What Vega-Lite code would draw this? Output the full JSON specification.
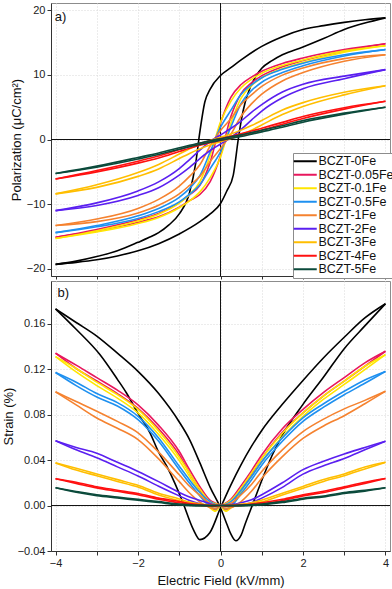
{
"$schema":"https://vega.github.io/schema/vega-lite/v6.json",
"background":"white",
"padding":{"left":1,"top":2,"right":1,"bottom":0},
"spacing":0,
"config":{
 "font":"Liberation Sans",
 "view":{"stroke":"#8c8c8c","strokeWidth":1},
 "axis":{"labelFont":"Liberation Sans","labelFontSize":11,"labelColor":"#222","titleFont":"Liberation Sans","titleFontSize":13,"titleFontWeight":"normal","titleColor":"#111","domainColor":"#333","tickColor":"#333","gridColor":"#d9d9d9","gridDash":[1,2],"gridWidth":1}
},
"datasets":{
"pol":[
{"s":"BCZT-0Fe","b":"D","e":4,"v":18.8},{"s":"BCZT-0Fe","b":"D","e":3.5,"v":18.5},{"s":"BCZT-0Fe","b":"D","e":3,"v":18.1},{"s":"BCZT-0Fe","b":"D","e":2.5,"v":17.6},{"s":"BCZT-0Fe","b":"D","e":2,"v":17.0},{"s":"BCZT-0Fe","b":"D","e":1.5,"v":15.9},{"s":"BCZT-0Fe","b":"D","e":1,"v":14.4},{"s":"BCZT-0Fe","b":"D","e":0.5,"v":12.3},{"s":"BCZT-0Fe","b":"D","e":0.25,"v":11.1},{"s":"BCZT-0Fe","b":"D","e":0,"v":9.9},{"s":"BCZT-0Fe","b":"D","e":-0.25,"v":7.8},{"s":"BCZT-0Fe","b":"D","e":-0.38,"v":5.8},{"s":"BCZT-0Fe","b":"D","e":-0.5,"v":1.2},{"s":"BCZT-0Fe","b":"D","e":-0.6,"v":-3.6},{"s":"BCZT-0Fe","b":"D","e":-0.75,"v":-8.2},{"s":"BCZT-0Fe","b":"D","e":-1,"v":-11.5},{"s":"BCZT-0Fe","b":"D","e":-1.25,"v":-13.2},{"s":"BCZT-0Fe","b":"D","e":-1.5,"v":-14.4},{"s":"BCZT-0Fe","b":"D","e":-1.75,"v":-15.2},{"s":"BCZT-0Fe","b":"D","e":-2,"v":-15.9},{"s":"BCZT-0Fe","b":"D","e":-2.5,"v":-17.2},{"s":"BCZT-0Fe","b":"D","e":-3,"v":-18.1},{"s":"BCZT-0Fe","b":"D","e":-3.5,"v":-18.8},{"s":"BCZT-0Fe","b":"D","e":-4,"v":-19.3},
{"s":"BCZT-0Fe","b":"A","e":-4,"v":-19.3},{"s":"BCZT-0Fe","b":"A","e":-3.5,"v":-19.0},{"s":"BCZT-0Fe","b":"A","e":-3,"v":-18.6},{"s":"BCZT-0Fe","b":"A","e":-2.5,"v":-18.0},{"s":"BCZT-0Fe","b":"A","e":-2,"v":-17.2},{"s":"BCZT-0Fe","b":"A","e":-1.5,"v":-16.1},{"s":"BCZT-0Fe","b":"A","e":-1,"v":-14.6},{"s":"BCZT-0Fe","b":"A","e":-0.5,"v":-12.7},{"s":"BCZT-0Fe","b":"A","e":-0.25,"v":-11.5},{"s":"BCZT-0Fe","b":"A","e":0,"v":-9.9},{"s":"BCZT-0Fe","b":"A","e":0.15,"v":-8.0},{"s":"BCZT-0Fe","b":"A","e":0.31,"v":-5.5},{"s":"BCZT-0Fe","b":"A","e":0.43,"v":0.0},{"s":"BCZT-0Fe","b":"A","e":0.51,"v":3.2},{"s":"BCZT-0Fe","b":"A","e":0.6,"v":5.8},{"s":"BCZT-0Fe","b":"A","e":0.71,"v":7.9},{"s":"BCZT-0Fe","b":"A","e":0.87,"v":9.9},{"s":"BCZT-0Fe","b":"A","e":1,"v":11.0},{"s":"BCZT-0Fe","b":"A","e":1.25,"v":12.2},{"s":"BCZT-0Fe","b":"A","e":1.5,"v":13.1},{"s":"BCZT-0Fe","b":"A","e":2,"v":14.3},{"s":"BCZT-0Fe","b":"A","e":2.5,"v":15.6},{"s":"BCZT-0Fe","b":"A","e":3,"v":17.0},{"s":"BCZT-0Fe","b":"A","e":3.5,"v":18.0},{"s":"BCZT-0Fe","b":"A","e":4,"v":18.8},
{"s":"BCZT-0.05Fe","b":"D","e":-4,"v":-15.1},{"s":"BCZT-0.05Fe","b":"D","e":-3,"v":-13.9},{"s":"BCZT-0.05Fe","b":"D","e":-2,"v":-12.4},{"s":"BCZT-0.05Fe","b":"D","e":-1.5,"v":-11.45},{"s":"BCZT-0.05Fe","b":"D","e":-1,"v":-9.75},{"s":"BCZT-0.05Fe","b":"D","e":-0.75,"v":-8.55},{"s":"BCZT-0.05Fe","b":"D","e":-0.5,"v":-7.1},{"s":"BCZT-0.05Fe","b":"D","e":-0.25,"v":-3.5},{"s":"BCZT-0.05Fe","b":"D","e":0,"v":2.5},{"s":"BCZT-0.05Fe","b":"D","e":0.25,"v":6.5},{"s":"BCZT-0.05Fe","b":"D","e":0.5,"v":8.5},{"s":"BCZT-0.05Fe","b":"D","e":0.75,"v":9.65},{"s":"BCZT-0.05Fe","b":"D","e":1,"v":10.55},{"s":"BCZT-0.05Fe","b":"D","e":1.5,"v":11.75},{"s":"BCZT-0.05Fe","b":"D","e":2,"v":12.6},{"s":"BCZT-0.05Fe","b":"D","e":3,"v":13.9},{"s":"BCZT-0.05Fe","b":"D","e":4,"v":14.8},
{"s":"BCZT-0.05Fe","b":"A","e":-4,"v":-15.1},{"s":"BCZT-0.05Fe","b":"A","e":-3,"v":-14.1},{"s":"BCZT-0.05Fe","b":"A","e":-2,"v":-12.8},{"s":"BCZT-0.05Fe","b":"A","e":-1.5,"v":-11.95},{"s":"BCZT-0.05Fe","b":"A","e":-1,"v":-10.45},{"s":"BCZT-0.05Fe","b":"A","e":-0.75,"v":-9.45},{"s":"BCZT-0.05Fe","b":"A","e":-0.5,"v":-8.5},{"s":"BCZT-0.05Fe","b":"A","e":-0.25,"v":-6.5},{"s":"BCZT-0.05Fe","b":"A","e":0,"v":-2.5},{"s":"BCZT-0.05Fe","b":"A","e":0.25,"v":3.5},{"s":"BCZT-0.05Fe","b":"A","e":0.5,"v":7.1},{"s":"BCZT-0.05Fe","b":"A","e":0.75,"v":8.75},{"s":"BCZT-0.05Fe","b":"A","e":1,"v":9.85},{"s":"BCZT-0.05Fe","b":"A","e":1.5,"v":11.25},{"s":"BCZT-0.05Fe","b":"A","e":2,"v":12.2},{"s":"BCZT-0.05Fe","b":"A","e":3,"v":13.7},{"s":"BCZT-0.05Fe","b":"A","e":4,"v":14.8},
{"s":"BCZT-0.1Fe","b":"D","e":-4,"v":-15.3},{"s":"BCZT-0.1Fe","b":"D","e":-3,"v":-14.1},{"s":"BCZT-0.1Fe","b":"D","e":-2,"v":-12.6},{"s":"BCZT-0.1Fe","b":"D","e":-1.5,"v":-11.55},{"s":"BCZT-0.1Fe","b":"D","e":-1,"v":-9.85},{"s":"BCZT-0.1Fe","b":"D","e":-0.75,"v":-8.5},{"s":"BCZT-0.1Fe","b":"D","e":-0.5,"v":-6.5},{"s":"BCZT-0.1Fe","b":"D","e":-0.25,"v":-2.5},{"s":"BCZT-0.1Fe","b":"D","e":0,"v":2.7},{"s":"BCZT-0.1Fe","b":"D","e":0.25,"v":5.9},{"s":"BCZT-0.1Fe","b":"D","e":0.5,"v":8.0},{"s":"BCZT-0.1Fe","b":"D","e":0.75,"v":9.3},{"s":"BCZT-0.1Fe","b":"D","e":1,"v":10.25},{"s":"BCZT-0.1Fe","b":"D","e":1.5,"v":11.45},{"s":"BCZT-0.1Fe","b":"D","e":2,"v":12.3},{"s":"BCZT-0.1Fe","b":"D","e":3,"v":13.7},{"s":"BCZT-0.1Fe","b":"D","e":4,"v":14.5},
{"s":"BCZT-0.1Fe","b":"A","e":-4,"v":-15.3},{"s":"BCZT-0.1Fe","b":"A","e":-3,"v":-14.3},{"s":"BCZT-0.1Fe","b":"A","e":-2,"v":-13.0},{"s":"BCZT-0.1Fe","b":"A","e":-1.5,"v":-12.05},{"s":"BCZT-0.1Fe","b":"A","e":-1,"v":-10.55},{"s":"BCZT-0.1Fe","b":"A","e":-0.75,"v":-9.5},{"s":"BCZT-0.1Fe","b":"A","e":-0.5,"v":-8.1},{"s":"BCZT-0.1Fe","b":"A","e":-0.25,"v":-5.9},{"s":"BCZT-0.1Fe","b":"A","e":0,"v":-2.7},{"s":"BCZT-0.1Fe","b":"A","e":0.25,"v":2.5},{"s":"BCZT-0.1Fe","b":"A","e":0.5,"v":6.4},{"s":"BCZT-0.1Fe","b":"A","e":0.75,"v":8.3},{"s":"BCZT-0.1Fe","b":"A","e":1,"v":9.55},{"s":"BCZT-0.1Fe","b":"A","e":1.5,"v":10.95},{"s":"BCZT-0.1Fe","b":"A","e":2,"v":11.9},{"s":"BCZT-0.1Fe","b":"A","e":3,"v":13.5},{"s":"BCZT-0.1Fe","b":"A","e":4,"v":14.5},
{"s":"BCZT-0.5Fe","b":"D","e":-4,"v":-14.4},{"s":"BCZT-0.5Fe","b":"D","e":-3,"v":-13.3},{"s":"BCZT-0.5Fe","b":"D","e":-2,"v":-11.8},{"s":"BCZT-0.5Fe","b":"D","e":-1.5,"v":-10.65},{"s":"BCZT-0.5Fe","b":"D","e":-1,"v":-8.95},{"s":"BCZT-0.5Fe","b":"D","e":-0.75,"v":-7.55},{"s":"BCZT-0.5Fe","b":"D","e":-0.5,"v":-5.6},{"s":"BCZT-0.5Fe","b":"D","e":-0.25,"v":-1.9},{"s":"BCZT-0.5Fe","b":"D","e":0,"v":1.9},{"s":"BCZT-0.5Fe","b":"D","e":0.25,"v":4.5},{"s":"BCZT-0.5Fe","b":"D","e":0.5,"v":7.0},{"s":"BCZT-0.5Fe","b":"D","e":0.75,"v":8.45},{"s":"BCZT-0.5Fe","b":"D","e":1,"v":9.55},{"s":"BCZT-0.5Fe","b":"D","e":1.5,"v":10.85},{"s":"BCZT-0.5Fe","b":"D","e":2,"v":11.8},{"s":"BCZT-0.5Fe","b":"D","e":3,"v":13.1},{"s":"BCZT-0.5Fe","b":"D","e":4,"v":13.9},
{"s":"BCZT-0.5Fe","b":"A","e":-4,"v":-14.4},{"s":"BCZT-0.5Fe","b":"A","e":-3,"v":-13.5},{"s":"BCZT-0.5Fe","b":"A","e":-2,"v":-12.2},{"s":"BCZT-0.5Fe","b":"A","e":-1.5,"v":-11.15},{"s":"BCZT-0.5Fe","b":"A","e":-1,"v":-9.65},{"s":"BCZT-0.5Fe","b":"A","e":-0.75,"v":-8.45},{"s":"BCZT-0.5Fe","b":"A","e":-0.5,"v":-7.0},{"s":"BCZT-0.5Fe","b":"A","e":-0.25,"v":-4.5},{"s":"BCZT-0.5Fe","b":"A","e":0,"v":-1.9},{"s":"BCZT-0.5Fe","b":"A","e":0.25,"v":1.9},{"s":"BCZT-0.5Fe","b":"A","e":0.5,"v":5.6},{"s":"BCZT-0.5Fe","b":"A","e":0.75,"v":7.55},{"s":"BCZT-0.5Fe","b":"A","e":1,"v":8.85},{"s":"BCZT-0.5Fe","b":"A","e":1.5,"v":10.35},{"s":"BCZT-0.5Fe","b":"A","e":2,"v":11.4},{"s":"BCZT-0.5Fe","b":"A","e":3,"v":12.9},{"s":"BCZT-0.5Fe","b":"A","e":4,"v":13.9},
{"s":"BCZT-1Fe","b":"D","e":-4,"v":-13.3},{"s":"BCZT-1Fe","b":"D","e":-3,"v":-12.3},{"s":"BCZT-1Fe","b":"D","e":-2,"v":-10.65},{"s":"BCZT-1Fe","b":"D","e":-1.5,"v":-9.25},{"s":"BCZT-1Fe","b":"D","e":-1,"v":-7.2},{"s":"BCZT-1Fe","b":"D","e":-0.75,"v":-5.7},{"s":"BCZT-1Fe","b":"D","e":-0.5,"v":-3.9},{"s":"BCZT-1Fe","b":"D","e":-0.25,"v":-1.0},{"s":"BCZT-1Fe","b":"D","e":0,"v":1.4},{"s":"BCZT-1Fe","b":"D","e":0.25,"v":3.2},{"s":"BCZT-1Fe","b":"D","e":0.5,"v":5.4},{"s":"BCZT-1Fe","b":"D","e":0.75,"v":6.9},{"s":"BCZT-1Fe","b":"D","e":1,"v":8.2},{"s":"BCZT-1Fe","b":"D","e":1.5,"v":9.95},{"s":"BCZT-1Fe","b":"D","e":2,"v":11.05},{"s":"BCZT-1Fe","b":"D","e":3,"v":12.5},{"s":"BCZT-1Fe","b":"D","e":4,"v":13.1},
{"s":"BCZT-1Fe","b":"A","e":-4,"v":-13.3},{"s":"BCZT-1Fe","b":"A","e":-3,"v":-12.7},{"s":"BCZT-1Fe","b":"A","e":-2,"v":-11.35},{"s":"BCZT-1Fe","b":"A","e":-1.5,"v":-10.15},{"s":"BCZT-1Fe","b":"A","e":-1,"v":-8.4},{"s":"BCZT-1Fe","b":"A","e":-0.75,"v":-7.1},{"s":"BCZT-1Fe","b":"A","e":-0.5,"v":-5.7},{"s":"BCZT-1Fe","b":"A","e":-0.25,"v":-3.4},{"s":"BCZT-1Fe","b":"A","e":0,"v":-1.4},{"s":"BCZT-1Fe","b":"A","e":0.25,"v":0.8},{"s":"BCZT-1Fe","b":"A","e":0.5,"v":3.6},{"s":"BCZT-1Fe","b":"A","e":0.75,"v":5.5},{"s":"BCZT-1Fe","b":"A","e":1,"v":7.0},{"s":"BCZT-1Fe","b":"A","e":1.5,"v":9.05},{"s":"BCZT-1Fe","b":"A","e":2,"v":10.35},{"s":"BCZT-1Fe","b":"A","e":3,"v":12.1},{"s":"BCZT-1Fe","b":"A","e":4,"v":13.1},
{"s":"BCZT-2Fe","b":"D","e":-4,"v":-11.0},{"s":"BCZT-2Fe","b":"D","e":-3,"v":-9.8},{"s":"BCZT-2Fe","b":"D","e":-2,"v":-7.95},{"s":"BCZT-2Fe","b":"D","e":-1.5,"v":-6.55},{"s":"BCZT-2Fe","b":"D","e":-1,"v":-4.5},{"s":"BCZT-2Fe","b":"D","e":-0.75,"v":-3.1},{"s":"BCZT-2Fe","b":"D","e":-0.5,"v":-1.65},{"s":"BCZT-2Fe","b":"D","e":-0.25,"v":-0.3},{"s":"BCZT-2Fe","b":"D","e":0,"v":0.7},{"s":"BCZT-2Fe","b":"D","e":0.25,"v":1.7},{"s":"BCZT-2Fe","b":"D","e":0.5,"v":2.85},{"s":"BCZT-2Fe","b":"D","e":0.75,"v":4.2},{"s":"BCZT-2Fe","b":"D","e":1,"v":5.4},{"s":"BCZT-2Fe","b":"D","e":1.5,"v":7.35},{"s":"BCZT-2Fe","b":"D","e":2,"v":8.55},{"s":"BCZT-2Fe","b":"D","e":3,"v":9.8},{"s":"BCZT-2Fe","b":"D","e":4,"v":10.8},
{"s":"BCZT-2Fe","b":"A","e":-4,"v":-11.0},{"s":"BCZT-2Fe","b":"A","e":-3,"v":-10.2},{"s":"BCZT-2Fe","b":"A","e":-2,"v":-8.65},{"s":"BCZT-2Fe","b":"A","e":-1.5,"v":-7.45},{"s":"BCZT-2Fe","b":"A","e":-1,"v":-5.5},{"s":"BCZT-2Fe","b":"A","e":-0.75,"v":-4.3},{"s":"BCZT-2Fe","b":"A","e":-0.5,"v":-2.95},{"s":"BCZT-2Fe","b":"A","e":-0.25,"v":-1.7},{"s":"BCZT-2Fe","b":"A","e":0,"v":-0.7},{"s":"BCZT-2Fe","b":"A","e":0.25,"v":0.3},{"s":"BCZT-2Fe","b":"A","e":0.5,"v":1.55},{"s":"BCZT-2Fe","b":"A","e":0.75,"v":3.0},{"s":"BCZT-2Fe","b":"A","e":1,"v":4.4},{"s":"BCZT-2Fe","b":"A","e":1.5,"v":6.45},{"s":"BCZT-2Fe","b":"A","e":2,"v":7.85},{"s":"BCZT-2Fe","b":"A","e":3,"v":9.4},{"s":"BCZT-2Fe","b":"A","e":4,"v":10.8},
{"s":"BCZT-3Fe","b":"D","e":-4,"v":-8.4},{"s":"BCZT-3Fe","b":"D","e":-3,"v":-7.0},{"s":"BCZT-3Fe","b":"D","e":-2,"v":-5.1},{"s":"BCZT-3Fe","b":"D","e":-1.5,"v":-3.85},{"s":"BCZT-3Fe","b":"D","e":-1,"v":-2.25},{"s":"BCZT-3Fe","b":"D","e":-0.75,"v":-1.45},{"s":"BCZT-3Fe","b":"D","e":-0.5,"v":-0.75},{"s":"BCZT-3Fe","b":"D","e":-0.25,"v":-0.15},{"s":"BCZT-3Fe","b":"D","e":0,"v":0.35},{"s":"BCZT-3Fe","b":"D","e":0.25,"v":0.85},{"s":"BCZT-3Fe","b":"D","e":0.5,"v":1.45},{"s":"BCZT-3Fe","b":"D","e":0.75,"v":2.15},{"s":"BCZT-3Fe","b":"D","e":1,"v":2.95},{"s":"BCZT-3Fe","b":"D","e":1.5,"v":4.55},{"s":"BCZT-3Fe","b":"D","e":2,"v":5.7},{"s":"BCZT-3Fe","b":"D","e":3,"v":7.3},{"s":"BCZT-3Fe","b":"D","e":4,"v":8.3},
{"s":"BCZT-3Fe","b":"A","e":-4,"v":-8.4},{"s":"BCZT-3Fe","b":"A","e":-3,"v":-7.4},{"s":"BCZT-3Fe","b":"A","e":-2,"v":-5.7},{"s":"BCZT-3Fe","b":"A","e":-1.5,"v":-4.55},{"s":"BCZT-3Fe","b":"A","e":-1,"v":-2.95},{"s":"BCZT-3Fe","b":"A","e":-0.75,"v":-2.15},{"s":"BCZT-3Fe","b":"A","e":-0.5,"v":-1.45},{"s":"BCZT-3Fe","b":"A","e":-0.25,"v":-0.85},{"s":"BCZT-3Fe","b":"A","e":0,"v":-0.35},{"s":"BCZT-3Fe","b":"A","e":0.25,"v":0.15},{"s":"BCZT-3Fe","b":"A","e":0.5,"v":0.75},{"s":"BCZT-3Fe","b":"A","e":0.75,"v":1.45},{"s":"BCZT-3Fe","b":"A","e":1,"v":2.25},{"s":"BCZT-3Fe","b":"A","e":1.5,"v":3.85},{"s":"BCZT-3Fe","b":"A","e":2,"v":5.1},{"s":"BCZT-3Fe","b":"A","e":3,"v":6.9},{"s":"BCZT-3Fe","b":"A","e":4,"v":8.3},
{"s":"BCZT-4Fe","b":"D","e":-4,"v":-6.1},{"s":"BCZT-4Fe","b":"D","e":-3,"v":-4.8},{"s":"BCZT-4Fe","b":"D","e":-2,"v":-3.35},{"s":"BCZT-4Fe","b":"D","e":-1.5,"v":-2.55},{"s":"BCZT-4Fe","b":"D","e":-1,"v":-1.55},{"s":"BCZT-4Fe","b":"D","e":-0.75,"v":-1.05},{"s":"BCZT-4Fe","b":"D","e":-0.5,"v":-0.6},{"s":"BCZT-4Fe","b":"D","e":-0.25,"v":-0.2},{"s":"BCZT-4Fe","b":"D","e":0,"v":0.15},{"s":"BCZT-4Fe","b":"D","e":0.25,"v":0.5},{"s":"BCZT-4Fe","b":"D","e":0.5,"v":0.9},{"s":"BCZT-4Fe","b":"D","e":0.75,"v":1.3},{"s":"BCZT-4Fe","b":"D","e":1,"v":1.75},{"s":"BCZT-4Fe","b":"D","e":1.5,"v":2.65},{"s":"BCZT-4Fe","b":"D","e":2,"v":3.55},{"s":"BCZT-4Fe","b":"D","e":3,"v":4.9},{"s":"BCZT-4Fe","b":"D","e":4,"v":5.9},
{"s":"BCZT-4Fe","b":"A","e":-4,"v":-6.1},{"s":"BCZT-4Fe","b":"A","e":-3,"v":-5.0},{"s":"BCZT-4Fe","b":"A","e":-2,"v":-3.65},{"s":"BCZT-4Fe","b":"A","e":-1.5,"v":-2.85},{"s":"BCZT-4Fe","b":"A","e":-1,"v":-1.85},{"s":"BCZT-4Fe","b":"A","e":-0.75,"v":-1.35},{"s":"BCZT-4Fe","b":"A","e":-0.5,"v":-0.9},{"s":"BCZT-4Fe","b":"A","e":-0.25,"v":-0.5},{"s":"BCZT-4Fe","b":"A","e":0,"v":-0.15},{"s":"BCZT-4Fe","b":"A","e":0.25,"v":0.2},{"s":"BCZT-4Fe","b":"A","e":0.5,"v":0.6},{"s":"BCZT-4Fe","b":"A","e":0.75,"v":1.0},{"s":"BCZT-4Fe","b":"A","e":1,"v":1.45},{"s":"BCZT-4Fe","b":"A","e":1.5,"v":2.35},{"s":"BCZT-4Fe","b":"A","e":2,"v":3.25},{"s":"BCZT-4Fe","b":"A","e":3,"v":4.7},{"s":"BCZT-4Fe","b":"A","e":4,"v":5.9},
{"s":"BCZT-5Fe","b":"D","e":-4,"v":-5.25},{"s":"BCZT-5Fe","b":"D","e":-3,"v":-4.12},{"s":"BCZT-5Fe","b":"D","e":-2,"v":-2.78},{"s":"BCZT-5Fe","b":"D","e":-1.5,"v":-2.08},{"s":"BCZT-5Fe","b":"D","e":-1,"v":-1.28},{"s":"BCZT-5Fe","b":"D","e":-0.75,"v":-0.88},{"s":"BCZT-5Fe","b":"D","e":-0.5,"v":-0.53},{"s":"BCZT-5Fe","b":"D","e":-0.25,"v":-0.18},{"s":"BCZT-5Fe","b":"D","e":0,"v":0.12},{"s":"BCZT-5Fe","b":"D","e":0.25,"v":0.42},{"s":"BCZT-5Fe","b":"D","e":0.5,"v":0.72},{"s":"BCZT-5Fe","b":"D","e":0.75,"v":1.07},{"s":"BCZT-5Fe","b":"D","e":1,"v":1.42},{"s":"BCZT-5Fe","b":"D","e":1.5,"v":2.12},{"s":"BCZT-5Fe","b":"D","e":2,"v":2.92},{"s":"BCZT-5Fe","b":"D","e":3,"v":4.08},{"s":"BCZT-5Fe","b":"D","e":4,"v":5.0},
{"s":"BCZT-5Fe","b":"A","e":-4,"v":-5.25},{"s":"BCZT-5Fe","b":"A","e":-3,"v":-4.28},{"s":"BCZT-5Fe","b":"A","e":-2,"v":-3.02},{"s":"BCZT-5Fe","b":"A","e":-1.5,"v":-2.32},{"s":"BCZT-5Fe","b":"A","e":-1,"v":-1.52},{"s":"BCZT-5Fe","b":"A","e":-0.75,"v":-1.12},{"s":"BCZT-5Fe","b":"A","e":-0.5,"v":-0.77},{"s":"BCZT-5Fe","b":"A","e":-0.25,"v":-0.42},{"s":"BCZT-5Fe","b":"A","e":0,"v":-0.12},{"s":"BCZT-5Fe","b":"A","e":0.25,"v":0.18},{"s":"BCZT-5Fe","b":"A","e":0.5,"v":0.48},{"s":"BCZT-5Fe","b":"A","e":0.75,"v":0.83},{"s":"BCZT-5Fe","b":"A","e":1,"v":1.18},{"s":"BCZT-5Fe","b":"A","e":1.5,"v":1.88},{"s":"BCZT-5Fe","b":"A","e":2,"v":2.68},{"s":"BCZT-5Fe","b":"A","e":3,"v":3.92},{"s":"BCZT-5Fe","b":"A","e":4,"v":5.0}
],
"str":[
{"s":"BCZT-0Fe","b":"A","e":-4,"v":0.173},{"s":"BCZT-0Fe","b":"A","e":-3.5,"v":0.161},{"s":"BCZT-0Fe","b":"A","e":-3,"v":0.149},{"s":"BCZT-0Fe","b":"A","e":-2.5,"v":0.134},{"s":"BCZT-0Fe","b":"A","e":-2,"v":0.118},{"s":"BCZT-0Fe","b":"A","e":-1.5,"v":0.0985},{"s":"BCZT-0Fe","b":"A","e":-1,"v":0.0735},{"s":"BCZT-0Fe","b":"A","e":-0.75,"v":0.058},{"s":"BCZT-0Fe","b":"A","e":-0.5,"v":0.0375},{"s":"BCZT-0Fe","b":"A","e":-0.25,"v":0.016},{"s":"BCZT-0Fe","b":"A","e":0,"v":-0.002},{"s":"BCZT-0Fe","b":"A","e":0.15,"v":-0.016},{"s":"BCZT-0Fe","b":"A","e":0.25,"v":-0.025},{"s":"BCZT-0Fe","b":"A","e":0.37,"v":-0.031},{"s":"BCZT-0Fe","b":"A","e":0.5,"v":-0.026},{"s":"BCZT-0Fe","b":"A","e":0.6,"v":-0.016},{"s":"BCZT-0Fe","b":"A","e":0.78,"v":0.001},{"s":"BCZT-0Fe","b":"A","e":1,"v":0.022},{"s":"BCZT-0Fe","b":"A","e":1.25,"v":0.044},{"s":"BCZT-0Fe","b":"A","e":1.5,"v":0.062},{"s":"BCZT-0Fe","b":"A","e":2,"v":0.089},{"s":"BCZT-0Fe","b":"A","e":2.5,"v":0.113},{"s":"BCZT-0Fe","b":"A","e":3,"v":0.138},{"s":"BCZT-0Fe","b":"A","e":3.5,"v":0.158},{"s":"BCZT-0Fe","b":"A","e":4,"v":0.1775},
{"s":"BCZT-0Fe","b":"D","e":-4,"v":0.173},{"s":"BCZT-0Fe","b":"D","e":-3.5,"v":0.155},{"s":"BCZT-0Fe","b":"D","e":-2.93,"v":0.133},{"s":"BCZT-0Fe","b":"D","e":-2.5,"v":0.111},{"s":"BCZT-0Fe","b":"D","e":-2.28,"v":0.099},{"s":"BCZT-0Fe","b":"D","e":-2,"v":0.081},{"s":"BCZT-0Fe","b":"D","e":-1.71,"v":0.064},{"s":"BCZT-0Fe","b":"D","e":-1.5,"v":0.047},{"s":"BCZT-0Fe","b":"D","e":-1.31,"v":0.035},{"s":"BCZT-0Fe","b":"D","e":-1.1,"v":0.019},{"s":"BCZT-0Fe","b":"D","e":-0.91,"v":0.0024},{"s":"BCZT-0Fe","b":"D","e":-0.66,"v":-0.021},{"s":"BCZT-0Fe","b":"D","e":-0.5,"v":-0.030},{"s":"BCZT-0Fe","b":"D","e":-0.26,"v":-0.024},{"s":"BCZT-0Fe","b":"D","e":0,"v":-0.002},{"s":"BCZT-0Fe","b":"D","e":0.25,"v":0.018},{"s":"BCZT-0Fe","b":"D","e":0.5,"v":0.036},{"s":"BCZT-0Fe","b":"D","e":0.75,"v":0.052},{"s":"BCZT-0Fe","b":"D","e":1,"v":0.066},{"s":"BCZT-0Fe","b":"D","e":1.5,"v":0.089},{"s":"BCZT-0Fe","b":"D","e":2,"v":0.110},{"s":"BCZT-0Fe","b":"D","e":2.5,"v":0.130},{"s":"BCZT-0Fe","b":"D","e":3,"v":0.148},{"s":"BCZT-0Fe","b":"D","e":3.5,"v":0.165},{"s":"BCZT-0Fe","b":"D","e":4,"v":0.1775},
{"s":"BCZT-0.05Fe","b":"D","e":-4,"v":0.134},{"s":"BCZT-0.05Fe","b":"D","e":-3.5,"v":0.1205},{"s":"BCZT-0.05Fe","b":"D","e":-3,"v":0.1095},{"s":"BCZT-0.05Fe","b":"D","e":-2.5,"v":0.0985},{"s":"BCZT-0.05Fe","b":"D","e":-2,"v":0.0855},{"s":"BCZT-0.05Fe","b":"D","e":-1.5,"v":0.0675},{"s":"BCZT-0.05Fe","b":"D","e":-1,"v":0.0445},{"s":"BCZT-0.05Fe","b":"D","e":-0.75,"v":0.0285},{"s":"BCZT-0.05Fe","b":"D","e":-0.5,"v":0.0135},{"s":"BCZT-0.05Fe","b":"D","e":-0.25,"v":-0.001},{"s":"BCZT-0.05Fe","b":"D","e":-0.12,"v":-0.004},{"s":"BCZT-0.05Fe","b":"D","e":0,"v":0.0},{"s":"BCZT-0.05Fe","b":"D","e":0.12,"v":0.002},{"s":"BCZT-0.05Fe","b":"D","e":0.25,"v":0.0055},{"s":"BCZT-0.05Fe","b":"D","e":0.5,"v":0.0175},{"s":"BCZT-0.05Fe","b":"D","e":0.75,"v":0.0305},{"s":"BCZT-0.05Fe","b":"D","e":1,"v":0.0445},{"s":"BCZT-0.05Fe","b":"D","e":1.5,"v":0.0675},{"s":"BCZT-0.05Fe","b":"D","e":2,"v":0.0845},{"s":"BCZT-0.05Fe","b":"D","e":2.5,"v":0.0995},{"s":"BCZT-0.05Fe","b":"D","e":3,"v":0.1125},{"s":"BCZT-0.05Fe","b":"D","e":3.5,"v":0.1255},{"s":"BCZT-0.05Fe","b":"D","e":4,"v":0.1357},
{"s":"BCZT-0.05Fe","b":"A","e":-4,"v":0.134},{"s":"BCZT-0.05Fe","b":"A","e":-3.5,"v":0.1235},{"s":"BCZT-0.05Fe","b":"A","e":-3,"v":0.1125},{"s":"BCZT-0.05Fe","b":"A","e":-2.5,"v":0.1015},{"s":"BCZT-0.05Fe","b":"A","e":-2,"v":0.0885},{"s":"BCZT-0.05Fe","b":"A","e":-1.5,"v":0.0705},{"s":"BCZT-0.05Fe","b":"A","e":-1,"v":0.0475},{"s":"BCZT-0.05Fe","b":"A","e":-0.75,"v":0.0315},{"s":"BCZT-0.05Fe","b":"A","e":-0.5,"v":0.0165},{"s":"BCZT-0.05Fe","b":"A","e":-0.25,"v":0.0045},{"s":"BCZT-0.05Fe","b":"A","e":-0.12,"v":0.002},{"s":"BCZT-0.05Fe","b":"A","e":0,"v":0.0},{"s":"BCZT-0.05Fe","b":"A","e":0.12,"v":-0.004},{"s":"BCZT-0.05Fe","b":"A","e":0.25,"v":-0.001},{"s":"BCZT-0.05Fe","b":"A","e":0.5,"v":0.0145},{"s":"BCZT-0.05Fe","b":"A","e":0.75,"v":0.0275},{"s":"BCZT-0.05Fe","b":"A","e":1,"v":0.0415},{"s":"BCZT-0.05Fe","b":"A","e":1.5,"v":0.0645},{"s":"BCZT-0.05Fe","b":"A","e":2,"v":0.0815},{"s":"BCZT-0.05Fe","b":"A","e":2.5,"v":0.0965},{"s":"BCZT-0.05Fe","b":"A","e":3,"v":0.1095},{"s":"BCZT-0.05Fe","b":"A","e":3.5,"v":0.1225},{"s":"BCZT-0.05Fe","b":"A","e":4,"v":0.1357},
{"s":"BCZT-0.1Fe","b":"D","e":-4,"v":0.131},{"s":"BCZT-0.1Fe","b":"D","e":-3.5,"v":0.1175},{"s":"BCZT-0.1Fe","b":"D","e":-3,"v":0.1055},{"s":"BCZT-0.1Fe","b":"D","e":-2.5,"v":0.0945},{"s":"BCZT-0.1Fe","b":"D","e":-2,"v":0.0815},{"s":"BCZT-0.1Fe","b":"D","e":-1.5,"v":0.0625},{"s":"BCZT-0.1Fe","b":"D","e":-1,"v":0.0395},{"s":"BCZT-0.1Fe","b":"D","e":-0.75,"v":0.0255},{"s":"BCZT-0.1Fe","b":"D","e":-0.5,"v":0.0115},{"s":"BCZT-0.1Fe","b":"D","e":-0.25,"v":-0.002},{"s":"BCZT-0.1Fe","b":"D","e":-0.12,"v":-0.005},{"s":"BCZT-0.1Fe","b":"D","e":0,"v":0.0},{"s":"BCZT-0.1Fe","b":"D","e":0.12,"v":0.0015},{"s":"BCZT-0.1Fe","b":"D","e":0.25,"v":0.0045},{"s":"BCZT-0.1Fe","b":"D","e":0.5,"v":0.0155},{"s":"BCZT-0.1Fe","b":"D","e":0.75,"v":0.0285},{"s":"BCZT-0.1Fe","b":"D","e":1,"v":0.0415},{"s":"BCZT-0.1Fe","b":"D","e":1.5,"v":0.0635},{"s":"BCZT-0.1Fe","b":"D","e":2,"v":0.0815},{"s":"BCZT-0.1Fe","b":"D","e":2.5,"v":0.0965},{"s":"BCZT-0.1Fe","b":"D","e":3,"v":0.1095},{"s":"BCZT-0.1Fe","b":"D","e":3.5,"v":0.1225},{"s":"BCZT-0.1Fe","b":"D","e":4,"v":0.1327},
{"s":"BCZT-0.1Fe","b":"A","e":-4,"v":0.131},{"s":"BCZT-0.1Fe","b":"A","e":-3.5,"v":0.1205},{"s":"BCZT-0.1Fe","b":"A","e":-3,"v":0.1085},{"s":"BCZT-0.1Fe","b":"A","e":-2.5,"v":0.0975},{"s":"BCZT-0.1Fe","b":"A","e":-2,"v":0.0845},{"s":"BCZT-0.1Fe","b":"A","e":-1.5,"v":0.0655},{"s":"BCZT-0.1Fe","b":"A","e":-1,"v":0.0425},{"s":"BCZT-0.1Fe","b":"A","e":-0.75,"v":0.0285},{"s":"BCZT-0.1Fe","b":"A","e":-0.5,"v":0.0145},{"s":"BCZT-0.1Fe","b":"A","e":-0.25,"v":0.0035},{"s":"BCZT-0.1Fe","b":"A","e":-0.12,"v":0.0015},{"s":"BCZT-0.1Fe","b":"A","e":0,"v":0.0},{"s":"BCZT-0.1Fe","b":"A","e":0.12,"v":-0.005},{"s":"BCZT-0.1Fe","b":"A","e":0.25,"v":-0.002},{"s":"BCZT-0.1Fe","b":"A","e":0.5,"v":0.0125},{"s":"BCZT-0.1Fe","b":"A","e":0.75,"v":0.0255},{"s":"BCZT-0.1Fe","b":"A","e":1,"v":0.0385},{"s":"BCZT-0.1Fe","b":"A","e":1.5,"v":0.0605},{"s":"BCZT-0.1Fe","b":"A","e":2,"v":0.0785},{"s":"BCZT-0.1Fe","b":"A","e":2.5,"v":0.0935},{"s":"BCZT-0.1Fe","b":"A","e":3,"v":0.1065},{"s":"BCZT-0.1Fe","b":"A","e":3.5,"v":0.1195},{"s":"BCZT-0.1Fe","b":"A","e":4,"v":0.1327},
{"s":"BCZT-0.5Fe","b":"D","e":-4,"v":0.117},{"s":"BCZT-0.5Fe","b":"D","e":-3.5,"v":0.1055},{"s":"BCZT-0.5Fe","b":"D","e":-3,"v":0.0955},{"s":"BCZT-0.5Fe","b":"D","e":-2.5,"v":0.0875},{"s":"BCZT-0.5Fe","b":"D","e":-2,"v":0.0755},{"s":"BCZT-0.5Fe","b":"D","e":-1.5,"v":0.0565},{"s":"BCZT-0.5Fe","b":"D","e":-1,"v":0.0315},{"s":"BCZT-0.5Fe","b":"D","e":-0.75,"v":0.0195},{"s":"BCZT-0.5Fe","b":"D","e":-0.5,"v":0.0085},{"s":"BCZT-0.5Fe","b":"D","e":-0.25,"v":-0.001},{"s":"BCZT-0.5Fe","b":"D","e":-0.12,"v":-0.003},{"s":"BCZT-0.5Fe","b":"D","e":0,"v":0.0},{"s":"BCZT-0.5Fe","b":"D","e":0.12,"v":0.001},{"s":"BCZT-0.5Fe","b":"D","e":0.25,"v":0.0035},{"s":"BCZT-0.5Fe","b":"D","e":0.5,"v":0.0135},{"s":"BCZT-0.5Fe","b":"D","e":0.75,"v":0.0255},{"s":"BCZT-0.5Fe","b":"D","e":1,"v":0.0385},{"s":"BCZT-0.5Fe","b":"D","e":1.5,"v":0.0595},{"s":"BCZT-0.5Fe","b":"D","e":2,"v":0.0771},{"s":"BCZT-0.5Fe","b":"D","e":2.5,"v":0.0895},{"s":"BCZT-0.5Fe","b":"D","e":3,"v":0.1005},{"s":"BCZT-0.5Fe","b":"D","e":3.5,"v":0.1105},{"s":"BCZT-0.5Fe","b":"D","e":4,"v":0.118},
{"s":"BCZT-0.5Fe","b":"A","e":-4,"v":0.117},{"s":"BCZT-0.5Fe","b":"A","e":-3.5,"v":0.1085},{"s":"BCZT-0.5Fe","b":"A","e":-3,"v":0.0985},{"s":"BCZT-0.5Fe","b":"A","e":-2.5,"v":0.0905},{"s":"BCZT-0.5Fe","b":"A","e":-2,"v":0.0785},{"s":"BCZT-0.5Fe","b":"A","e":-1.5,"v":0.0595},{"s":"BCZT-0.5Fe","b":"A","e":-1,"v":0.0345},{"s":"BCZT-0.5Fe","b":"A","e":-0.75,"v":0.0225},{"s":"BCZT-0.5Fe","b":"A","e":-0.5,"v":0.0115},{"s":"BCZT-0.5Fe","b":"A","e":-0.25,"v":0.0035},{"s":"BCZT-0.5Fe","b":"A","e":-0.12,"v":0.001},{"s":"BCZT-0.5Fe","b":"A","e":0,"v":0.0},{"s":"BCZT-0.5Fe","b":"A","e":0.12,"v":-0.003},{"s":"BCZT-0.5Fe","b":"A","e":0.25,"v":-0.001},{"s":"BCZT-0.5Fe","b":"A","e":0.5,"v":0.0105},{"s":"BCZT-0.5Fe","b":"A","e":0.75,"v":0.0225},{"s":"BCZT-0.5Fe","b":"A","e":1,"v":0.0355},{"s":"BCZT-0.5Fe","b":"A","e":1.5,"v":0.0565},{"s":"BCZT-0.5Fe","b":"A","e":2,"v":0.0741},{"s":"BCZT-0.5Fe","b":"A","e":2.5,"v":0.0865},{"s":"BCZT-0.5Fe","b":"A","e":3,"v":0.0975},{"s":"BCZT-0.5Fe","b":"A","e":3.5,"v":0.1075},{"s":"BCZT-0.5Fe","b":"A","e":4,"v":0.118},
{"s":"BCZT-1Fe","b":"D","e":-4,"v":0.100},{"s":"BCZT-1Fe","b":"D","e":-3.5,"v":0.0885},{"s":"BCZT-1Fe","b":"D","e":-3,"v":0.077},{"s":"BCZT-1Fe","b":"D","e":-2.5,"v":0.068},{"s":"BCZT-1Fe","b":"D","e":-2,"v":0.058},{"s":"BCZT-1Fe","b":"D","e":-1.5,"v":0.041},{"s":"BCZT-1Fe","b":"D","e":-1,"v":0.021},{"s":"BCZT-1Fe","b":"D","e":-0.75,"v":0.011},{"s":"BCZT-1Fe","b":"D","e":-0.5,"v":0.003},{"s":"BCZT-1Fe","b":"D","e":-0.25,"v":-0.002},{"s":"BCZT-1Fe","b":"D","e":-0.12,"v":-0.003},{"s":"BCZT-1Fe","b":"D","e":0,"v":0.0},{"s":"BCZT-1Fe","b":"D","e":0.12,"v":0.0005},{"s":"BCZT-1Fe","b":"D","e":0.25,"v":0.002},{"s":"BCZT-1Fe","b":"D","e":0.5,"v":0.0095},{"s":"BCZT-1Fe","b":"D","e":0.75,"v":0.0185},{"s":"BCZT-1Fe","b":"D","e":1,"v":0.030},{"s":"BCZT-1Fe","b":"D","e":1.5,"v":0.049},{"s":"BCZT-1Fe","b":"D","e":2,"v":0.065},{"s":"BCZT-1Fe","b":"D","e":2.5,"v":0.076},{"s":"BCZT-1Fe","b":"D","e":3,"v":0.085},{"s":"BCZT-1Fe","b":"D","e":3.5,"v":0.0925},{"s":"BCZT-1Fe","b":"D","e":4,"v":0.1005},
{"s":"BCZT-1Fe","b":"A","e":-4,"v":0.100},{"s":"BCZT-1Fe","b":"A","e":-3.5,"v":0.0915},{"s":"BCZT-1Fe","b":"A","e":-3,"v":0.083},{"s":"BCZT-1Fe","b":"A","e":-2.5,"v":0.074},{"s":"BCZT-1Fe","b":"A","e":-2,"v":0.064},{"s":"BCZT-1Fe","b":"A","e":-1.5,"v":0.047},{"s":"BCZT-1Fe","b":"A","e":-1,"v":0.027},{"s":"BCZT-1Fe","b":"A","e":-0.75,"v":0.017},{"s":"BCZT-1Fe","b":"A","e":-0.5,"v":0.009},{"s":"BCZT-1Fe","b":"A","e":-0.25,"v":0.002},{"s":"BCZT-1Fe","b":"A","e":-0.12,"v":0.0005},{"s":"BCZT-1Fe","b":"A","e":0,"v":0.0},{"s":"BCZT-1Fe","b":"A","e":0.12,"v":-0.003},{"s":"BCZT-1Fe","b":"A","e":0.25,"v":-0.002},{"s":"BCZT-1Fe","b":"A","e":0.5,"v":0.0035},{"s":"BCZT-1Fe","b":"A","e":0.75,"v":0.0125},{"s":"BCZT-1Fe","b":"A","e":1,"v":0.024},{"s":"BCZT-1Fe","b":"A","e":1.5,"v":0.043},{"s":"BCZT-1Fe","b":"A","e":2,"v":0.059},{"s":"BCZT-1Fe","b":"A","e":2.5,"v":0.070},{"s":"BCZT-1Fe","b":"A","e":3,"v":0.079},{"s":"BCZT-1Fe","b":"A","e":3.5,"v":0.0895},{"s":"BCZT-1Fe","b":"A","e":4,"v":0.1005},
{"s":"BCZT-2Fe","b":"D","e":-4,"v":0.057},{"s":"BCZT-2Fe","b":"D","e":-3.5,"v":0.049},{"s":"BCZT-2Fe","b":"D","e":-3,"v":0.042},{"s":"BCZT-2Fe","b":"D","e":-2.5,"v":0.034},{"s":"BCZT-2Fe","b":"D","e":-2,"v":0.026},{"s":"BCZT-2Fe","b":"D","e":-1.5,"v":0.017},{"s":"BCZT-2Fe","b":"D","e":-1,"v":0.0085},{"s":"BCZT-2Fe","b":"D","e":-0.75,"v":0.0045},{"s":"BCZT-2Fe","b":"D","e":-0.5,"v":0.0015},{"s":"BCZT-2Fe","b":"D","e":-0.25,"v":-0.0005},{"s":"BCZT-2Fe","b":"D","e":-0.12,"v":-0.001},{"s":"BCZT-2Fe","b":"D","e":0,"v":0.0},{"s":"BCZT-2Fe","b":"D","e":0.12,"v":0.0003},{"s":"BCZT-2Fe","b":"D","e":0.25,"v":0.0008},{"s":"BCZT-2Fe","b":"D","e":0.5,"v":0.0025},{"s":"BCZT-2Fe","b":"D","e":0.75,"v":0.005},{"s":"BCZT-2Fe","b":"D","e":1,"v":0.0095},{"s":"BCZT-2Fe","b":"D","e":1.5,"v":0.020},{"s":"BCZT-2Fe","b":"D","e":2,"v":0.0316},{"s":"BCZT-2Fe","b":"D","e":2.5,"v":0.039},{"s":"BCZT-2Fe","b":"D","e":3,"v":0.0454},{"s":"BCZT-2Fe","b":"D","e":3.5,"v":0.051},{"s":"BCZT-2Fe","b":"D","e":4,"v":0.0566},
{"s":"BCZT-2Fe","b":"A","e":-4,"v":0.057},{"s":"BCZT-2Fe","b":"A","e":-3.5,"v":0.051},{"s":"BCZT-2Fe","b":"A","e":-3,"v":0.046},{"s":"BCZT-2Fe","b":"A","e":-2.5,"v":0.038},{"s":"BCZT-2Fe","b":"A","e":-2,"v":0.030},{"s":"BCZT-2Fe","b":"A","e":-1.5,"v":0.021},{"s":"BCZT-2Fe","b":"A","e":-1,"v":0.0115},{"s":"BCZT-2Fe","b":"A","e":-0.75,"v":0.0075},{"s":"BCZT-2Fe","b":"A","e":-0.5,"v":0.0045},{"s":"BCZT-2Fe","b":"A","e":-0.25,"v":0.0015},{"s":"BCZT-2Fe","b":"A","e":-0.12,"v":0.0003},{"s":"BCZT-2Fe","b":"A","e":0,"v":0.0},{"s":"BCZT-2Fe","b":"A","e":0.12,"v":-0.001},{"s":"BCZT-2Fe","b":"A","e":0.25,"v":-0.0005},{"s":"BCZT-2Fe","b":"A","e":0.5,"v":0.0005},{"s":"BCZT-2Fe","b":"A","e":0.75,"v":0.0025},{"s":"BCZT-2Fe","b":"A","e":1,"v":0.0065},{"s":"BCZT-2Fe","b":"A","e":1.5,"v":0.016},{"s":"BCZT-2Fe","b":"A","e":2,"v":0.0276},{"s":"BCZT-2Fe","b":"A","e":2.5,"v":0.035},{"s":"BCZT-2Fe","b":"A","e":3,"v":0.0414},{"s":"BCZT-2Fe","b":"A","e":3.5,"v":0.049},{"s":"BCZT-2Fe","b":"A","e":4,"v":0.0566},
{"s":"BCZT-3Fe","b":"D","e":-4,"v":0.0375},{"s":"BCZT-3Fe","b":"D","e":-3.5,"v":0.0312},{"s":"BCZT-3Fe","b":"D","e":-3,"v":0.0262},{"s":"BCZT-3Fe","b":"D","e":-2.5,"v":0.0212},{"s":"BCZT-3Fe","b":"D","e":-2,"v":0.0162},{"s":"BCZT-3Fe","b":"D","e":-1.5,"v":0.0092},{"s":"BCZT-3Fe","b":"D","e":-1,"v":0.0042},{"s":"BCZT-3Fe","b":"D","e":-0.75,"v":0.0017},{"s":"BCZT-3Fe","b":"D","e":-0.5,"v":0.0002},{"s":"BCZT-3Fe","b":"D","e":-0.25,"v":-0.0008},{"s":"BCZT-3Fe","b":"D","e":-0.12,"v":-0.001},{"s":"BCZT-3Fe","b":"D","e":0,"v":0.0},{"s":"BCZT-3Fe","b":"D","e":0.12,"v":0.0001},{"s":"BCZT-3Fe","b":"D","e":0.25,"v":0.0003},{"s":"BCZT-3Fe","b":"D","e":0.5,"v":0.0012},{"s":"BCZT-3Fe","b":"D","e":0.75,"v":0.0025},{"s":"BCZT-3Fe","b":"D","e":1,"v":0.0048},{"s":"BCZT-3Fe","b":"D","e":1.5,"v":0.0108},{"s":"BCZT-3Fe","b":"D","e":2,"v":0.0168},{"s":"BCZT-3Fe","b":"D","e":2.5,"v":0.0228},{"s":"BCZT-3Fe","b":"D","e":3,"v":0.0278},{"s":"BCZT-3Fe","b":"D","e":3.5,"v":0.0338},{"s":"BCZT-3Fe","b":"D","e":4,"v":0.038},
{"s":"BCZT-3Fe","b":"A","e":-4,"v":0.0375},{"s":"BCZT-3Fe","b":"A","e":-3.5,"v":0.0328},{"s":"BCZT-3Fe","b":"A","e":-3,"v":0.0278},{"s":"BCZT-3Fe","b":"A","e":-2.5,"v":0.0228},{"s":"BCZT-3Fe","b":"A","e":-2,"v":0.0178},{"s":"BCZT-3Fe","b":"A","e":-1.5,"v":0.0108},{"s":"BCZT-3Fe","b":"A","e":-1,"v":0.0058},{"s":"BCZT-3Fe","b":"A","e":-0.75,"v":0.003},{"s":"BCZT-3Fe","b":"A","e":-0.5,"v":0.0015},{"s":"BCZT-3Fe","b":"A","e":-0.25,"v":0.0003},{"s":"BCZT-3Fe","b":"A","e":-0.12,"v":0.0001},{"s":"BCZT-3Fe","b":"A","e":0,"v":0.0},{"s":"BCZT-3Fe","b":"A","e":0.12,"v":-0.001},{"s":"BCZT-3Fe","b":"A","e":0.25,"v":-0.0008},{"s":"BCZT-3Fe","b":"A","e":0.5,"v":0.0},{"s":"BCZT-3Fe","b":"A","e":0.75,"v":0.0012},{"s":"BCZT-3Fe","b":"A","e":1,"v":0.0032},{"s":"BCZT-3Fe","b":"A","e":1.5,"v":0.0092},{"s":"BCZT-3Fe","b":"A","e":2,"v":0.0152},{"s":"BCZT-3Fe","b":"A","e":2.5,"v":0.0212},{"s":"BCZT-3Fe","b":"A","e":3,"v":0.0262},{"s":"BCZT-3Fe","b":"A","e":3.5,"v":0.0322},{"s":"BCZT-3Fe","b":"A","e":4,"v":0.038},
{"s":"BCZT-4Fe","b":"D","e":-4,"v":0.0235},{"s":"BCZT-4Fe","b":"D","e":-3.5,"v":0.0195},{"s":"BCZT-4Fe","b":"D","e":-3,"v":0.0155},{"s":"BCZT-4Fe","b":"D","e":-2.5,"v":0.0125},{"s":"BCZT-4Fe","b":"D","e":-2,"v":0.0095},{"s":"BCZT-4Fe","b":"D","e":-1.5,"v":0.0055},{"s":"BCZT-4Fe","b":"D","e":-1,"v":0.0025},{"s":"BCZT-4Fe","b":"D","e":-0.75,"v":0.001},{"s":"BCZT-4Fe","b":"D","e":-0.5,"v":0.0},{"s":"BCZT-4Fe","b":"D","e":-0.25,"v":-0.0004},{"s":"BCZT-4Fe","b":"D","e":-0.12,"v":-0.0005},{"s":"BCZT-4Fe","b":"D","e":0,"v":0.0},{"s":"BCZT-4Fe","b":"D","e":0.12,"v":0.0001},{"s":"BCZT-4Fe","b":"D","e":0.25,"v":0.0002},{"s":"BCZT-4Fe","b":"D","e":0.5,"v":0.0006},{"s":"BCZT-4Fe","b":"D","e":0.75,"v":0.0013},{"s":"BCZT-4Fe","b":"D","e":1,"v":0.0025},{"s":"BCZT-4Fe","b":"D","e":1.5,"v":0.0055},{"s":"BCZT-4Fe","b":"D","e":2,"v":0.0095},{"s":"BCZT-4Fe","b":"D","e":2.5,"v":0.0125},{"s":"BCZT-4Fe","b":"D","e":3,"v":0.0165},{"s":"BCZT-4Fe","b":"D","e":3.5,"v":0.0205},{"s":"BCZT-4Fe","b":"D","e":4,"v":0.0237},
{"s":"BCZT-4Fe","b":"A","e":-4,"v":0.0235},{"s":"BCZT-4Fe","b":"A","e":-3.5,"v":0.0205},{"s":"BCZT-4Fe","b":"A","e":-3,"v":0.0165},{"s":"BCZT-4Fe","b":"A","e":-2.5,"v":0.0135},{"s":"BCZT-4Fe","b":"A","e":-2,"v":0.0105},{"s":"BCZT-4Fe","b":"A","e":-1.5,"v":0.0065},{"s":"BCZT-4Fe","b":"A","e":-1,"v":0.0035},{"s":"BCZT-4Fe","b":"A","e":-0.75,"v":0.0018},{"s":"BCZT-4Fe","b":"A","e":-0.5,"v":0.0008},{"s":"BCZT-4Fe","b":"A","e":-0.25,"v":0.0002},{"s":"BCZT-4Fe","b":"A","e":-0.12,"v":0.0001},{"s":"BCZT-4Fe","b":"A","e":0,"v":0.0},{"s":"BCZT-4Fe","b":"A","e":0.12,"v":-0.0005},{"s":"BCZT-4Fe","b":"A","e":0.25,"v":-0.0004},{"s":"BCZT-4Fe","b":"A","e":0.5,"v":0.0},{"s":"BCZT-4Fe","b":"A","e":0.75,"v":0.0006},{"s":"BCZT-4Fe","b":"A","e":1,"v":0.0015},{"s":"BCZT-4Fe","b":"A","e":1.5,"v":0.0045},{"s":"BCZT-4Fe","b":"A","e":2,"v":0.0085},{"s":"BCZT-4Fe","b":"A","e":2.5,"v":0.0115},{"s":"BCZT-4Fe","b":"A","e":3,"v":0.0155},{"s":"BCZT-4Fe","b":"A","e":3.5,"v":0.0195},{"s":"BCZT-4Fe","b":"A","e":4,"v":0.0237},
{"s":"BCZT-5Fe","b":"D","e":-4,"v":0.0156},{"s":"BCZT-5Fe","b":"D","e":-3.5,"v":0.0116},{"s":"BCZT-5Fe","b":"D","e":-3,"v":0.0086},{"s":"BCZT-5Fe","b":"D","e":-2.5,"v":0.0066},{"s":"BCZT-5Fe","b":"D","e":-2,"v":0.0046},{"s":"BCZT-5Fe","b":"D","e":-1.5,"v":0.0026},{"s":"BCZT-5Fe","b":"D","e":-1,"v":0.0006},{"s":"BCZT-5Fe","b":"D","e":-0.5,"v":-0.0003},{"s":"BCZT-5Fe","b":"D","e":0,"v":0.0},{"s":"BCZT-5Fe","b":"D","e":0.5,"v":0.0004},{"s":"BCZT-5Fe","b":"D","e":1,"v":0.0014},{"s":"BCZT-5Fe","b":"D","e":1.5,"v":0.0034},{"s":"BCZT-5Fe","b":"D","e":2,"v":0.0064},{"s":"BCZT-5Fe","b":"D","e":2.5,"v":0.0084},{"s":"BCZT-5Fe","b":"D","e":3,"v":0.0114},{"s":"BCZT-5Fe","b":"D","e":3.5,"v":0.0134},{"s":"BCZT-5Fe","b":"D","e":4,"v":0.0156},
{"s":"BCZT-5Fe","b":"A","e":-4,"v":0.0156},{"s":"BCZT-5Fe","b":"A","e":-3.5,"v":0.0124},{"s":"BCZT-5Fe","b":"A","e":-3,"v":0.0094},{"s":"BCZT-5Fe","b":"A","e":-2.5,"v":0.0074},{"s":"BCZT-5Fe","b":"A","e":-2,"v":0.0054},{"s":"BCZT-5Fe","b":"A","e":-1.5,"v":0.0034},{"s":"BCZT-5Fe","b":"A","e":-1,"v":0.0014},{"s":"BCZT-5Fe","b":"A","e":-0.5,"v":0.0004},{"s":"BCZT-5Fe","b":"A","e":0,"v":0.0},{"s":"BCZT-5Fe","b":"A","e":0.5,"v":-0.0003},{"s":"BCZT-5Fe","b":"A","e":1,"v":0.0006},{"s":"BCZT-5Fe","b":"A","e":1.5,"v":0.0026},{"s":"BCZT-5Fe","b":"A","e":2,"v":0.0056},{"s":"BCZT-5Fe","b":"A","e":2.5,"v":0.0076},{"s":"BCZT-5Fe","b":"A","e":3,"v":0.0106},{"s":"BCZT-5Fe","b":"A","e":3.5,"v":0.0126},{"s":"BCZT-5Fe","b":"A","e":4,"v":0.0156}
]
},
"vconcat":[
{
 "width":339,"height":273,
 "layer":[
  {"data":{"values":[{}]},"mark":{"type":"rule","color":"#111","strokeWidth":1},"encoding":{"y":{"datum":0,"type":"quantitative","scale":{"domain":[-21.1,21.1],"nice":false}}}},
  {"data":{"values":[{}]},"mark":{"type":"rule","color":"#111","strokeWidth":1},"encoding":{"x":{"datum":0,"type":"quantitative","scale":{"domain":[-4.11,4.11],"nice":false,"zero":false}}}},
  {"data":{"name":"pol"},"mark":{"type":"line","interpolate":"monotone","strokeWidth":1.6},
   "encoding":{
    "x":{"field":"e","type":"quantitative","scale":{"domain":[-4.11,4.11],"nice":false,"zero":false},
      "axis":{"title":null,"labels":false,"values":[-4,-3,-2,-1,0,1,2,3,4],"tickSize":3,"grid":true}},
    "y":{"field":"v","type":"quantitative","scale":{"domain":[-21.1,21.1],"nice":false},
      "axis":{"title":"Polarization (μC/cm²)","values":[-20,-17.5,-15,-12.5,-10,-7.5,-5,-2.5,0,2.5,5,7.5,10,12.5,15,17.5,20],"labelExpr":"abs(round(datum.value*2)) % 10 === 0 ? datum.label : ''","tickSize":{"condition":{"test":"abs(round(datum.value*2)) % 10 === 0","value":4},"value":2},"titlePadding":3,"grid":true}},
    "color":{"field":"s","type":"nominal",
      "scale":{"domain":["BCZT-0Fe","BCZT-0.05Fe","BCZT-0.1Fe","BCZT-0.5Fe","BCZT-1Fe","BCZT-2Fe","BCZT-3Fe","BCZT-4Fe","BCZT-5Fe"],
               "range":["#000000","#e8175d","#ffe600","#1e90f0","#f5822f","#5a1ff0","#ffbe00","#ff1010","#0b4a3b"]},
      "legend":{"title":null,"orient":"none","legendX":242,"legendY":150,"symbolType":"M-2.3,0H2.3","symbolSize":100,"symbolStrokeWidth":2,"symbolOffset":4,"labelOffset":7,"labelFont":"Liberation Sans","labelFontSize":12.5,"labelLimit":200,"labelColor":"#111","rowPadding":0.5,"padding":2,"strokeColor":"#8c8c8c","fillColor":"white"}},
    "detail":{"field":"b"}
   }},
  {"data":{"values":[{}]},"mark":{"type":"text","text":"a)","align":"left","baseline":"middle","fontSize":13,"font":"Liberation Sans","color":"#111"},"encoding":{"x":{"datum":-4.02,"type":"quantitative"},"y":{"datum":18.9,"type":"quantitative"}}}
 ]
},
{
 "width":339,"height":270,
 "layer":[
  {"data":{"values":[{}]},"mark":{"type":"rule","color":"#111","strokeWidth":1},"encoding":{"y":{"datum":0,"type":"quantitative","scale":{"domain":[-0.04,0.1975],"nice":false,"zero":false}}}},
  {"data":{"values":[{}]},"mark":{"type":"rule","color":"#111","strokeWidth":1},"encoding":{"x":{"datum":0,"type":"quantitative","scale":{"domain":[-4.11,4.11],"nice":false,"zero":false}}}},
  {"data":{"name":"str"},"mark":{"type":"line","interpolate":"monotone","strokeWidth":1.6},
   "encoding":{
    "x":{"field":"e","type":"quantitative","scale":{"domain":[-4.11,4.11],"nice":false,"zero":false},
      "axis":{"title":"Electric Field (kV/mm)","values":[-4,-3,-2,-1,0,1,2,3,4],"labelExpr":"abs(datum.value) % 2 === 0 ? datum.label : ''","tickSize":4,"grid":true,"titlePadding":6}},
    "y":{"field":"v","type":"quantitative","scale":{"domain":[-0.04,0.1975],"nice":false,"zero":false},
      "axis":{"title":"Strain (%)","format":".2f","values":[-0.04,-0.02,0,0.02,0.04,0.06,0.08,0.1,0.12,0.14,0.16,0.18],"labelExpr":"abs(round(datum.value*100)) % 4 === 0 ? datum.label : ''","tickSize":{"condition":{"test":"abs(round(datum.value*100)) % 4 === 0","value":4},"value":2},"titlePadding":2,"grid":true}},
    "color":{"field":"s","type":"nominal","legend":null,
      "scale":{"domain":["BCZT-0Fe","BCZT-0.05Fe","BCZT-0.1Fe","BCZT-0.5Fe","BCZT-1Fe","BCZT-2Fe","BCZT-3Fe","BCZT-4Fe","BCZT-5Fe"],
               "range":["#000000","#e8175d","#ffe600","#1e90f0","#f5822f","#5a1ff0","#ffbe00","#ff1010","#0b4a3b"]}},
    "detail":{"field":"b"}
   }},
  {"data":{"values":[{}]},"mark":{"type":"text","text":"b)","align":"left","baseline":"middle","fontSize":13,"font":"Liberation Sans","color":"#111"},"encoding":{"x":{"datum":-3.95,"type":"quantitative"},"y":{"datum":0.187,"type":"quantitative"}}}
 ]
}
],
"resolve":{"scale":{"color":"shared"}}
}
